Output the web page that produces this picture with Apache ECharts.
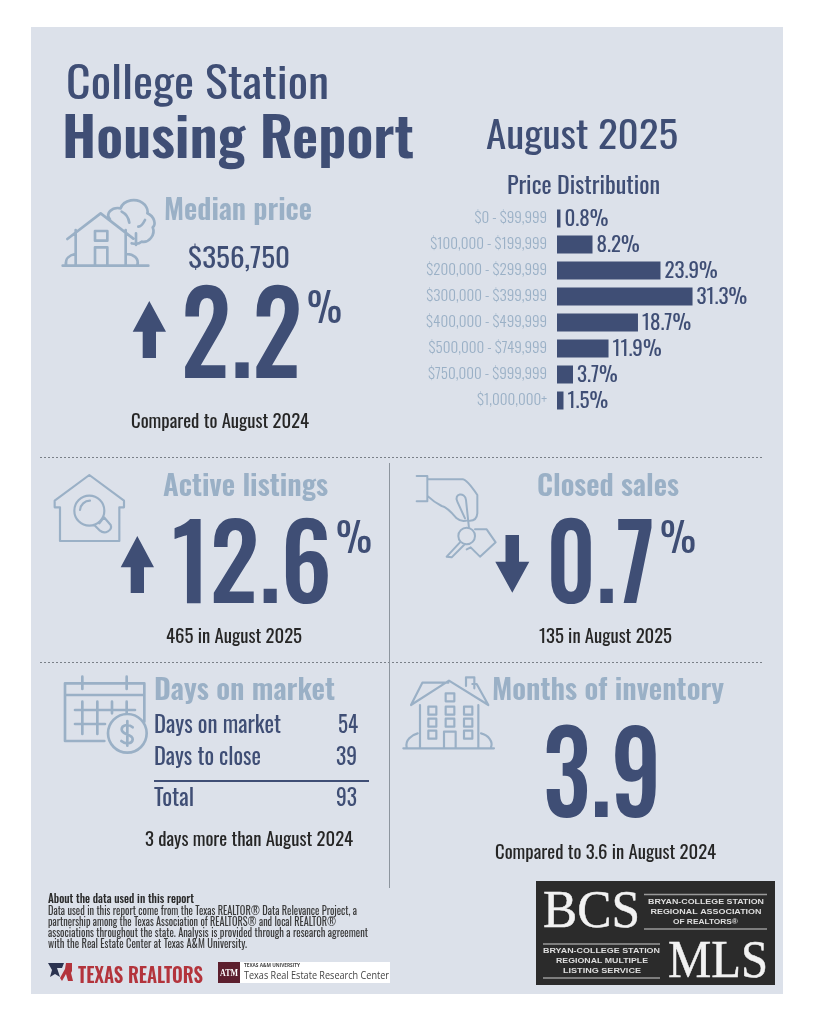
<!DOCTYPE html>
<html><head><meta charset="utf-8">
<style>html,body{margin:0;padding:0;background:#fff}#c{width:818px;height:1024px}</style>
<script src="https://cdn.jsdelivr.net/npm/echarts@6/dist/echarts.min.js"></script>
</head><body><div id="c"></div>
<script>
const priceBands = ['$0 - $99,999','$100,000 - $199,999','$200,000 - $299,999','$300,000 - $399,999','$400,000 - $499,999','$500,000 - $749,999','$750,000 - $999,999','$1,000,000+'];
const priceShares = [0.8,8.2,23.9,31.3,18.7,11.9,3.7,1.5];
const medianPrice = '$356,750', medianChange = '2.2';
const activeChange = '12.6', closedChange = '0.7', monthsInventory = '3.9';
const daysRows = [['Days on market','54'],['Days to close','39'],['Total','93']];

const DARK='#3f4e75', LIGHT='#9ab0c6', INK='#262626';
const COND='Oswald, "Roboto Condensed", sans-serif';
const cv=document.createElement('canvas').getContext('2d');
const els=[];
function T(text,x,cy,size,w,fill,o){ o=o||{};
  const fam=o.fam||COND;
  let off=0;
  if(!o.fam){ size=size*0.93; off=size*0.107; }
  const weight=o.fam?(o.bold?'bold ':''):(o.w||(o.bold?600:400))+' ';
  cv.font=weight+size+'px '+fam;
  const m=cv.measureText(text).width;
  const s=w?w/m:1;
  els.push({type:'text',x:x,y:cy+off,scaleX:s,scaleY:1,z:5,style:{text:text,x:0,y:0,fill:fill,
    stroke:o.sw?fill:null,lineWidth:o.sw||0,
    font:weight+size+'px '+fam,textAlign:o.align||'left',textVerticalAlign:'middle'}});
}
function P(name,d,ox,oy,lw,color){
  echarts.graphic.registerShape(name,echarts.graphic.extendPath(d,{}));
  els.push({type:name,x:ox,y:oy,scaleX:1/3,scaleY:1/3,z:4,
    style:{fill:null,stroke:color||LIGHT,lineWidth:lw||8,lineCap:'round',lineJoin:'round'}});
}
function Poly(pts,fill){els.push({type:'polygon',z:4,shape:{points:pts},style:{fill:fill||DARK}});}
function L(x1,y1,x2,y2,color,lw,dash){els.push({type:'line',z:3,shape:{x1,y1,x2,y2},style:{stroke:color,lineWidth:lw,lineDash:dash||null}});}
function R(x,y,w,h,fill){els.push({type:'rect',z:2,shape:{x,y,width:w,height:h},style:{fill}});}

R(31,27,752,967,'#dce1ea');
// titles
T('College Station',66,81,46,263,DARK);
T('Housing Report',62,136,58,352,DARK,{bold:1});
T('August 2025',486,133,41,192,DARK);
T('Price Distribution',507,184,25,153,DARK);
// median
T('Median price',164,209,30,148,LIGHT,{bold:1});
T(medianPrice,188,257,30,102,DARK);
T(medianChange,181,331.5,122,121,DARK,{w:500});
T('%',307,307,43,35,DARK);
T('Compared to August 2024',131,420,20,178,INK);
// dividers
L(40,457.5,762,457.5,'#7a8088',1,[2,2]);
L(40,662.5,762,662.5,'#7a8088',1,[2,2]);
L(389.5,463,389.5,888,'#8d959e',1);
// active
T('Active listings',163,485,30,165,LIGHT,{bold:1});
T(activeChange,172,560,112,160,DARK,{w:500});
T('%',336,537,43,36,DARK);
T('465 in August 2025',166,635,20,136,INK);
// closed
T('Closed sales',537,485,30,142,LIGHT,{bold:1});
T(closedChange,546,560,112,109,DARK,{w:500});
T('%',660,537,43,36,DARK);
T('135 in August 2025',539,635,20,133,INK);
// days
T('Days on market',154,688,31,181,LIGHT,{bold:1});
T(daysRows[0][0],154,723,25,127,DARK);
T(daysRows[0][1],338,723,25,20,DARK);
T(daysRows[1][0],154,755,25,107,DARK);
T(daysRows[1][1],336,755,25,21,DARK);
L(154,781,369,781,DARK,2);
T(daysRows[2][0],154,796,25,40,DARK);
T(daysRows[2][1],336,796,25,21,DARK);
T('3 days more than August 2024',145,838,20,208,INK);
// months
T('Months of inventory',492,688,31,232,LIGHT,{bold:1});
T(monthsInventory,543,771,121,118,DARK,{w:500});
T('Compared to 3.6 in August 2024',495,851,20,221,INK);
// about
T('About the data used in this report',48,898,12.5,146,'#2a2a2a',{w:500});
T('Data used in this report come from the Texas REALTOR® Data Relevance Project, a',48,910,12,309,'#3a3a3a');
T('partnership among the Texas Association of REALTORS® and local REALTOR®',48,921,12,288,'#3a3a3a');
T('associations throughout the state. Analysis is provided through a research agreement',48,932,12,320,'#3a3a3a');
T('with the Real Estate Center at Texas A&M University.',48,943,12,199,'#3a3a3a');
// arrows
Poly([[149.3,301],[166,331.7],[156,331.7],[156,358],[142.7,358],[142.7,331.7],[132.7,331.7]]);
Poly([[137.3,536],[154,567.3],[144,567.3],[144,593],[130.7,593],[130.7,567.3],[120.7,567.3]]);
Poly([[505.5,535],[519,535],[519,561.7],[529.3,561.7],[512.3,592.7],[495.3,561.7],[505.5,561.7]]);
// icons
P('icoHouse','M98 257H355 M137 150V255 M287 150V255 M112 177L212 100L310 176 M195 153H232V182H195Z M195 255V202H232V255 M240 118C225 100 245 80 272 85C280 60 320 50 345 75C352 85 355 92 352 100C375 110 378 135 368 142C378 165 355 190 335 185C325 195 315 192 305 190 M318 160V195 M275 95C285 100 295 110 298 128 M345 120C340 130 335 140 325 140 M108 255C105 235 120 225 135 222 M290 222C310 222 328 235 322 255',30,180);
P('icoSearch','M148 45L44 122V142H60V243H238V142H252V122Z M193 152A45 45 0 1 1 103 152A45 45 0 1 1 193 152Z M120 150A30 30 0 0 1 150 122 M178 190L192 172L212 195C218 210 195 225 180 212L162 194',40,460,6.5);
P('icoKeys','M50 48H82V124H50 M82 58H188Q200 58 232 105V160Q230 182 210 182 M85 110Q100 125 125 138Q140 140 170 175Q185 188 205 180 M172 125C160 100 195 95 198 120L207 205 M172 125L195 175 M225 228A25 25 0 1 1 175 228A25 25 0 1 1 225 228Z M182 245L140 290L155 292L192 255 M225 208H260L287 247L240 290L212 262L200 268',400,460,6);
P('icoCal','M163 228H45V55H283V170 M45 90H283 M97 35V72 M230 35V72 M75 135H255 M75 177H165 M97 110V207 M142 110V207 M186 110V145 M230 110V145 M290 205A58 58 0 1 1 174 205A58 58 0 1 1 290 205Z M248 187C235 175 215 180 215 193C215 212 248 205 248 223C248 236 228 240 214 228 M232 168V242',50,665);
P('icoBldg','M25 235H297 M75 105V235 M250 105V235 M48 105L82 38H160 M48 105L162 32L280 105L245 42H232 M213 48V22H238V55 M100 110H124V134H100Z M152 110H178V134H152Z M207 110H232V134H207Z M100 146H124V170H100Z M152 146H178V170H152Z M207 146H232V170H207Z M100 182H124V206H100Z M207 182H232V206H207Z M152 70H178V94H152Z M147 235V185H182V235 M35 232C30 210 50 195 68 190 M258 190C280 195 295 215 288 232',395,670,6.5);
// TR logo + Texas Realtors
Poly([[48,963],[64,963],[62,968],[57,968],[60,977],[55,974],[50,977],[52,970]],'#2b3350');
Poly([[66,963],[72,963],[72,971],[71,973],[73,981],[68,981],[66,974],[62,981],[60,978],[65,969]],'#b3343c');
T('TEXAS REALTORS',78,975,21,125,'#b3343c',{bold:1});
// A&M
R(218,962,172,21,'#ffffff');
R(218,962,22,21,'#5c1f2e');
T('ATM',220,973,11,18,'#ffffff',{bold:1,fam:'"Liberation Serif",serif'});
T('TEXAS A&M UNIVERSITY',244,966,5,56,'#444',{bold:1,fam:'"Open Sans",sans-serif'});
T('Texas Real Estate Research Center',244,975.5,11,145,'#444',{fam:'"Open Sans",sans-serif'});
// BCS
R(536,881,239,104,'#2b2b2b');
T('BCS',543,913,53,97,'#f2f2f2',{fam:'"Liberation Serif",serif',sw:0.5});
T('MLS',668,963,53,100,'#f2f2f2',{fam:'"Liberation Serif",serif',sw:0.5});
L(644,894.5,767,894.5,'#9a9a9a',1.5); L(644,929,767,929,'#9a9a9a',1.5);
L(543,944,660,944,'#9a9a9a',1.5); L(543,978,660,978,'#9a9a9a',1.5);
const SANS='"Liberation Sans",sans-serif', W='#dedede';
T('BRYAN-COLLEGE STATION',648,901.7,7,116,W,{bold:1,fam:SANS});
T('REGIONAL ASSOCIATION',650.5,911.7,7,111,W,{bold:1,fam:SANS});
T('OF REALTORS®',673,921.7,7,65,W,{bold:1,fam:SANS});
T('BRYAN-COLLEGE STATION',543,951,7,117,W,{bold:1,fam:SANS});
T('REGIONAL MULTIPLE',556,961,7,92,W,{bold:1,fam:SANS});
T('LISTING SERVICE',563,971,7,78,W,{bold:1,fam:SANS});

const chart=echarts.init(document.getElementById('c'),null,{renderer:'canvas',width:818,height:1024});
chart.setOption({
  animation:false,backgroundColor:'#ffffff',
  grid:{left:557,top:205.5,width:173.2,height:208,z:6},
  xAxis:{type:'value',min:0,max:40,show:false},
  yAxis:{type:'category',inverse:true,data:priceBands,z:6,axisLine:{show:false},axisTick:{show:false},
    axisLabel:{color:LIGHT,fontFamily:COND,fontWeight:300,fontSize:15,margin:10,interval:0}},
  series:[{type:'bar',data:priceShares,barWidth:18,itemStyle:{color:DARK},z:6,
    label:{show:true,position:'right',distance:4,offset:[0,1],color:DARK,fontFamily:COND,fontWeight:400,fontSize:21,formatter:p=>p.value+'%'}}],
  graphic:{elements:els}
});
</script></body></html>
